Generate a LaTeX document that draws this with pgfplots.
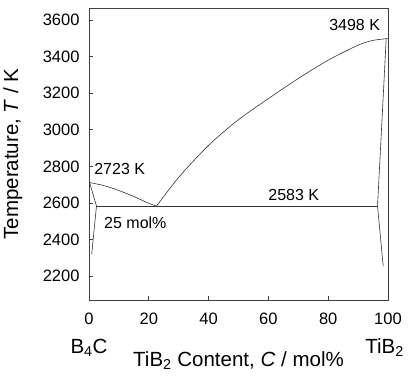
\documentclass[border=0pt]{standalone}
\usepackage{pgfplots}
\pgfplotsset{compat=1.18}
\usepackage{fontspec}
\setmainfont{Liberation Sans}
\begin{document}
\begin{tikzpicture}
\useasboundingbox (-89pt,-78pt) rectangle (319pt,300pt);
\begin{axis}[
  at={(0,0)}, anchor=south west,
  scale only axis, width=299pt, height=292pt,
  xmin=0, xmax=100, ymin=2070, ymax=3665,
  xtick={0,20,...,100}, ytick={2200,2400,...,3600},
  tick align=inside, major tick length=4pt,
  xtick pos=bottom, ytick pos=left,
  /pgf/number format/assume math mode=true,
  /pgf/number format/1000 sep={},
  tick label style={font=\fontsize{16.5}{19}\selectfont},
  xticklabel style={yshift=-9pt},
  yticklabel style={xshift=-6pt},
  axis line style={black!75, line width=0.6pt},
  every tick/.style={black!75, line width=0.6pt},
  xlabel={TiB\textsubscript{2} Content, \textit{C} / mol\%},
  ylabel={Temperature, \textit{T} / K},
  label style={font=\fontsize{20.5}{24}\selectfont},
  xlabel style={at={(axis description cs:0.5,0)}, anchor=north, yshift=-48pt},
  ylabel style={at={(axis description cs:0,0.5)}, anchor=south, yshift=63pt},
  clip=false,
]
% left liquidus
\addplot[black!80, line width=0.6pt, no marks, smooth] coordinates {(0,2712) (5,2695) (10,2668) (15,2635) (20,2598) (22.6,2583)};
% right liquidus
\addplot[black!80, line width=0.6pt, no marks, smooth] coordinates {(22.6,2583) (30,2740) (40,2915) (50,3055) (60,3170) (70,3280) (80,3380) (90,3462) (95,3488) (100,3498)};
% eutectic
\addplot[black!80, line width=0.6pt, no marks] coordinates {(2.5,2583) (96.5,2583)};
% left solidus
\addplot[black!80, line width=0.6pt, no marks] coordinates {(0.2,2712) (2.5,2583) (0.9,2320)};
% right solidus
\addplot[black!80, line width=0.6pt, no marks] coordinates {(99.4,3498) (96.5,2583) (98.4,2255)};
\node[font=\fontsize{16}{19}\selectfont, anchor=base west] at (axis cs:0.6,2755) {2723 K};
\node[font=\fontsize{16}{19}\selectfont, anchor=base east] at (axis cs:98.5,3540) {3498 K};
\node[font=\fontsize{16}{19}\selectfont, anchor=base] at (axis cs:68.5,2612) {2583 K};
\node[font=\fontsize{16}{19}\selectfont, anchor=base] at (axis cs:15.5,2462) {25 mol\%};
\node[font=\fontsize{20.5}{24}\selectfont] at (axis cs:0,2070) [yshift=-48pt] {B\textsubscript{4}C};
\node[font=\fontsize{20.5}{24}\selectfont, anchor=east] at (axis cs:106.5,2070) [yshift=-48pt] {TiB\textsubscript{2}};
\end{axis}
\end{tikzpicture}
\end{document}
